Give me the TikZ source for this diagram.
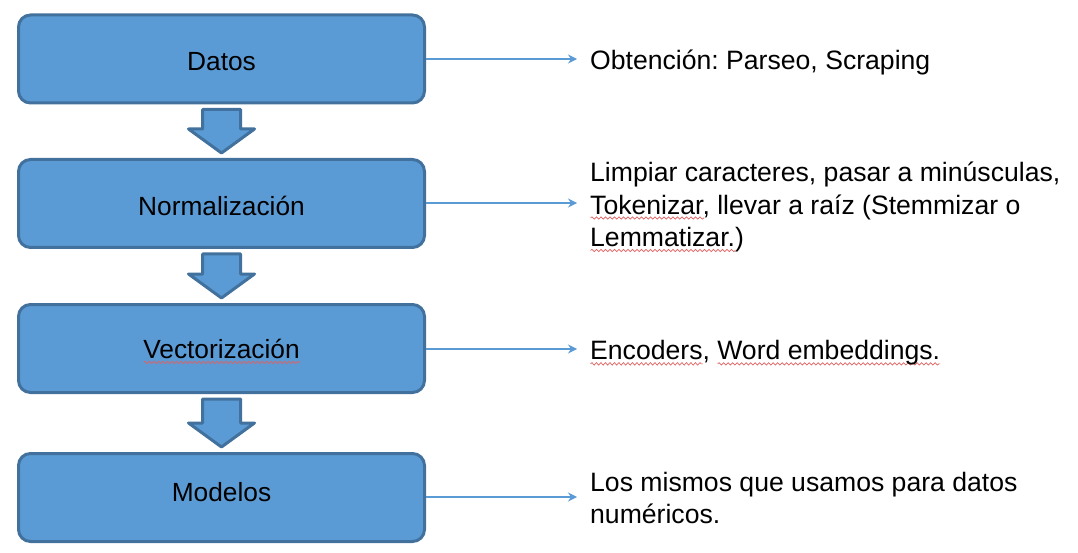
\documentclass[tikz,border=0pt]{standalone}
\usepackage{fontspec}
\setmainfont{Liberation Sans}
\usetikzlibrary{arrows.meta,calc,decorations.pathmorphing}
\definecolor{boxfill}{HTML}{5B9BD5}
\definecolor{boxline}{HTML}{41719C}
\definecolor{linkblue}{HTML}{5B9BD5}
\definecolor{wavered}{HTML}{E06060}
\frenchspacing
\newlength\spellw
\newcommand\spellwave[1]{\leavevmode\settowidth\spellw{#1}%
  \rlap{\tikz[baseline=0pt,x=1pt,y=1pt,sharp corners]{\draw[wavered,line width=0.7pt,decorate,
    decoration={snake,amplitude=1.2pt,segment length=4.5pt}] (0,-4) -- (\spellw,-4);}}%
  #1}
\tikzset{
  stagebox/.style={draw=boxline, fill=boxfill, line width=3pt, rounded corners=12pt,
    minimum width=406pt, minimum height=88pt, inner sep=0pt},
  boxtext/.style={font=\fontsize{26.3}{32.5}\selectfont, inner sep=0pt},
  note/.style={anchor=west, inner sep=0pt, align=left,
    font=\fontsize{26.6}{32.5}\selectfont},
  link/.style={draw=linkblue, line width=1.3pt, -{Stealth[length=9pt,width=9pt,inset=3pt]}},
  blockarr/.style={draw=boxline, fill=boxfill, line width=3pt, line join=round}
}
\newcommand\flowarrow[2]{%
  \draw[blockarr] let \p1=($(#1.south)+(0,5)$), \p2=($(#2.north)+(0,-5)$) in
    (\x1-19pt,\y1) -- (\x1+19pt,\y1) -- (\x1+19pt,\y2+24pt) -- (\x1+33pt,\y2+24pt)
    -- (\x1,\y2) -- (\x1-33pt,\y2+24pt) -- (\x1-19pt,\y2+24pt) -- cycle;}
\begin{document}
\begin{tikzpicture}[x=1pt,y=-1pt]
\useasboundingbox (0,0) rectangle (1078,553);
\node[stagebox, label={[boxtext,yshift=-3pt]center:Datos}] (datos) at (221.5,59) {};
\node[stagebox, label={[boxtext,yshift=-2pt]center:Normalización}] (norm) at (221.5,203.5) {};
\node[stagebox, label={[boxtext,yshift=-3pt]center:\spellwave{Vectorización}}] (vect) at (221.5,348.5) {};
\node[stagebox, label={[boxtext,yshift=5pt]center:Modelos}] (mod) at (221.5,497.5) {};

\flowarrow{datos}{norm}
\flowarrow{norm}{vect}
\flowarrow{vect}{mod}

\coordinate (e1) at (577,59);
\coordinate (e2) at (577,203);
\coordinate (e3) at (577,349);
\coordinate (e4) at (577,497);
\draw[link] (datos.east |- e1) -- (e1);
\draw[link] (norm.east |- e2) -- (e2);
\draw[link] (vect.east |- e3) -- (e3);
\draw[link] (mod.east |- e4) -- (e4);

\node[note] (t1) at (590,62) {Obtención: Parseo, Scraping};
\node[note] (t2) at (590,207) {Limpiar caracteres, pasar a minúsculas,\\
  \spellwave{Tokenizar}, llevar a raíz (Stemmizar o\\
  \spellwave{Lemmatizar.})};
\node[note] (t3) at (590,353) {\spellwave{Encoders}, \spellwave{Word embeddings.}};
\node[note] (t4) at (590,498) {Los mismos que usamos para datos\\ numéricos.};
\end{tikzpicture}
\end{document}
